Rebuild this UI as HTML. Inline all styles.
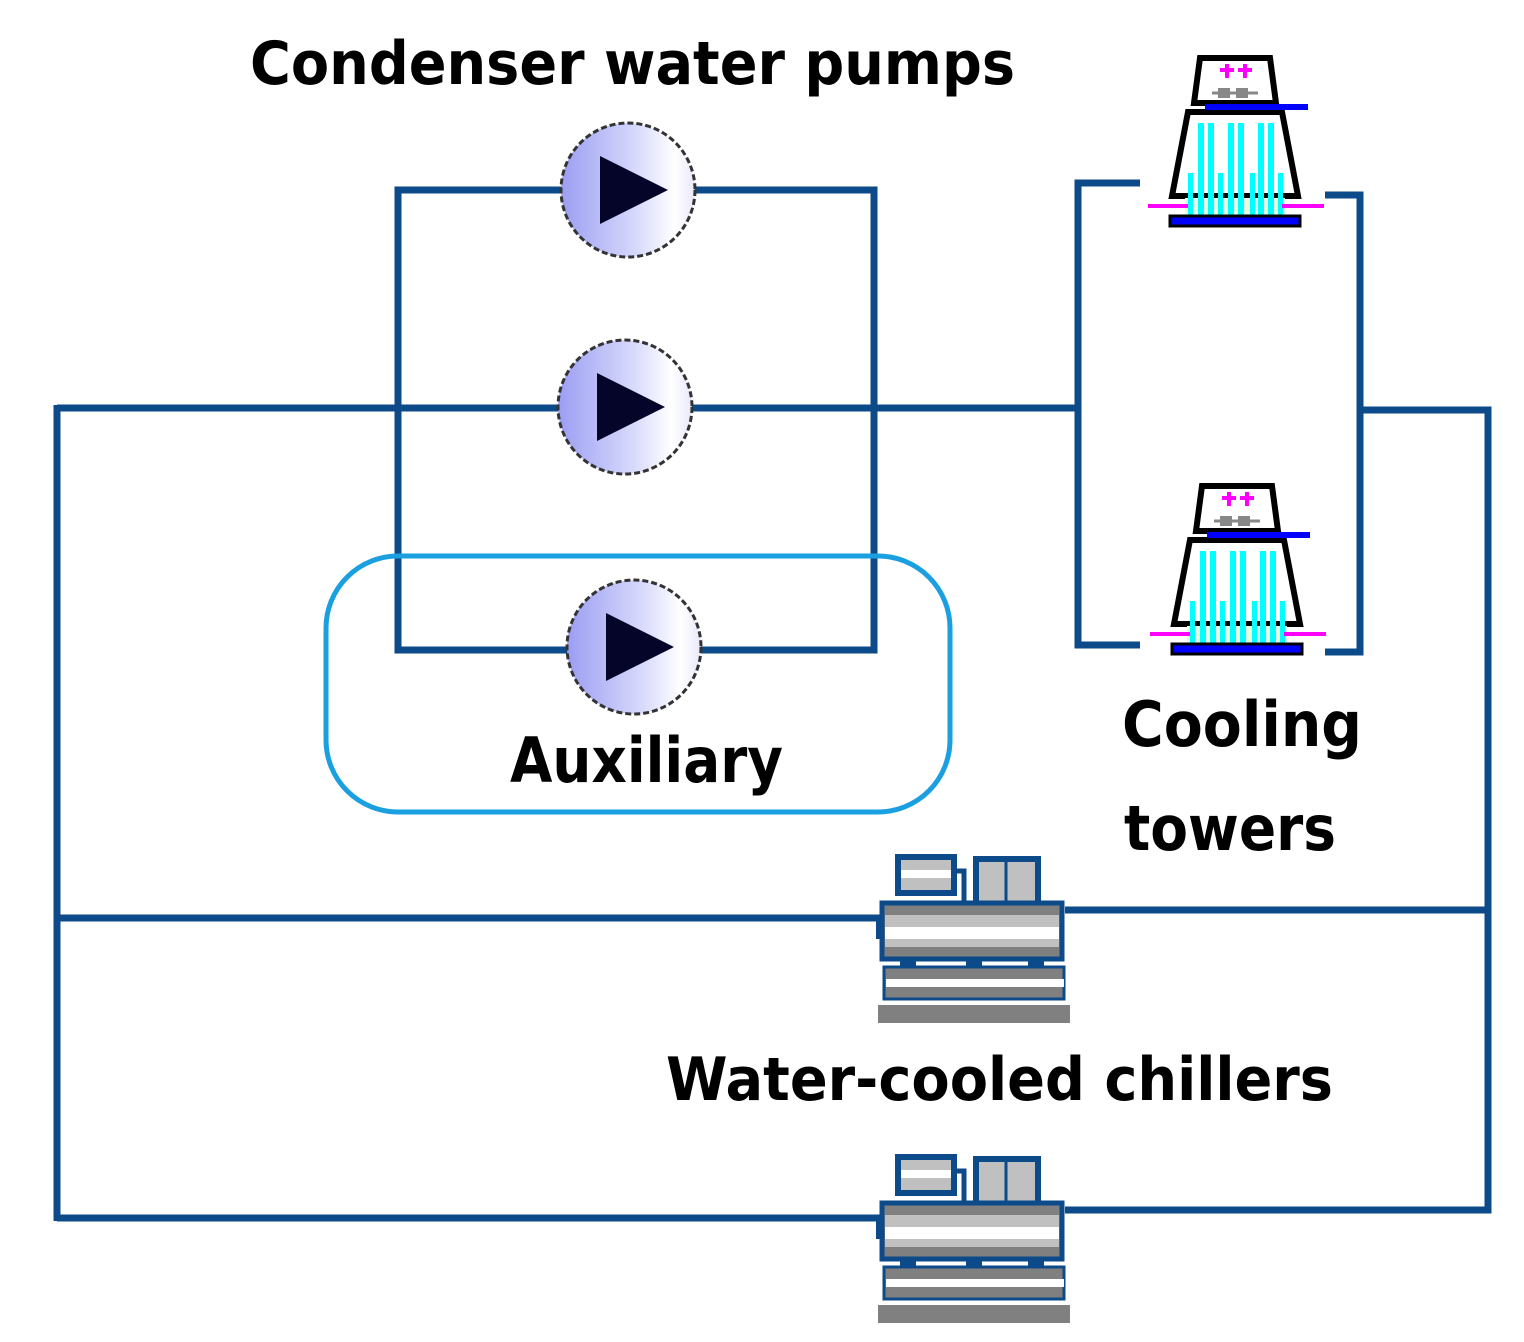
<!DOCTYPE html>
<html><head><style>html,body{margin:0;padding:0;background:#fff}svg{display:block}</style></head>
<body>
<svg width="1524" height="1342" viewBox="0 0 1524 1342" xmlns="http://www.w3.org/2000/svg">
<defs>
<linearGradient id="pg" x1="0" y1="0" x2="1" y2="0">
<stop offset="0" stop-color="#9b9ef2"/><stop offset="0.55" stop-color="#d6d8fb"/><stop offset="0.85" stop-color="#ffffff"/><stop offset="1" stop-color="#e8e8fb"/>
</linearGradient>
<g id="pump">
<circle cx="0" cy="0" r="67" fill="url(#pg)" stroke="#333" stroke-width="3" stroke-dasharray="6 3"/>
<polygon points="-28,-34 -28,34 40,0" fill="#05052a"/>
</g>
<g id="tower">
<polygon points="30,0 100,0 106,45 24,45" fill="#fff" stroke="#000" stroke-width="6"/>
<path d="M50,12 h14 M57,6 v14 M68,12 h14 M75,6 v14" stroke="#f0f" stroke-width="4"/>
<rect x="48" y="30" width="12" height="10" fill="#888"/><rect x="66" y="30" width="12" height="10" fill="#888"/>
<path d="M42,35 h46" stroke="#888" stroke-width="3"/>
<polygon points="18,54 112,54 128,138 2,138" fill="#fff" stroke="#000" stroke-width="6"/>
<rect x="35" y="46" width="103" height="6" fill="#00f"/>
<rect x="15" y="140" width="100" height="18" fill="#e6fbe0"/>
<g fill="#0ff">
<rect x="28" y="65" width="6" height="92"/><rect x="38" y="65" width="6" height="92"/>
<rect x="58" y="65" width="6" height="92"/><rect x="68" y="65" width="6" height="92"/>
<rect x="88" y="65" width="6" height="92"/><rect x="98" y="65" width="6" height="92"/>
<rect x="18" y="115" width="5" height="42"/><rect x="48" y="115" width="5" height="42"/><rect x="80" y="115" width="5" height="42"/><rect x="108" y="115" width="5" height="42"/>
</g>
<path d="M-22,148 h40 M112,148 h42" stroke="#f0f" stroke-width="4"/>
<rect x="0" y="158" width="130" height="10" fill="#00f" stroke="#000" stroke-width="3"/>
</g>
<g id="chiller">
<rect x="20" y="2" width="56" height="36" fill="#c0c0c0" stroke="#0d4a8a" stroke-width="6"/>
<rect x="23" y="15" width="50" height="8" fill="#fff"/>
<rect x="98" y="4" width="62" height="48" fill="#c0c0c0" stroke="#0d4a8a" stroke-width="6"/>
<path d="M128,4 v48" stroke="#0d4a8a" stroke-width="3"/>
<path d="M76,16 h10 v36" stroke="#0d4a8a" stroke-width="5" fill="none"/>
<rect x="4" y="48" width="180" height="56" fill="#808080" stroke="#0d4a8a" stroke-width="5"/>
<rect x="7" y="60" width="174" height="12" fill="#c0c0c0"/>
<rect x="7" y="72" width="174" height="12" fill="#fff"/>
<rect x="7" y="84" width="174" height="8" fill="#c0c0c0"/>
<rect x="-2" y="62" width="8" height="22" fill="#0d4a8a"/>
<rect x="22" y="104" width="16" height="8" fill="#0d4a8a"/><rect x="88" y="104" width="16" height="8" fill="#0d4a8a"/><rect x="150" y="104" width="16" height="8" fill="#0d4a8a"/>
<rect x="6" y="112" width="180" height="32" fill="#808080" stroke="#0d4a8a" stroke-width="3"/>
<rect x="8" y="124" width="178" height="8" fill="#fff"/>
<rect x="0" y="150" width="192" height="18" fill="#808080"/>
</g>
</defs>
<g fill="none" stroke="#0d4a8a" stroke-width="7">
<rect x="398" y="190" width="476" height="460"/>
<path d="M57,408 H1078 M57,405 V1221 M57,918 H880 M57,1218 H882"/>
<path d="M1140,183 H1078 V645 H1140"/>
<path d="M1325,195 H1360 V652 H1325"/>
<path d="M1360,410 H1488 V1210 H1065 M1065,910 H1488"/>
</g>
<rect x="326" y="556" width="624" height="256" rx="72" fill="none" stroke="#1aa0e0" stroke-width="5"/>
<use href="#pump" x="628" y="190"/>
<use href="#pump" x="625" y="407"/>
<use href="#pump" x="634" y="647"/>
<use href="#tower" x="1170" y="58"/>
<use href="#tower" x="1172" y="486"/>
<use href="#chiller" x="878" y="855"/>
<use href="#chiller" x="878" y="1155"/>
<g font-family="'DejaVu Sans','Liberation Sans',sans-serif" font-weight="bold" fill="#000">
<text x="250" y="84" font-size="60" textLength="765" lengthAdjust="spacingAndGlyphs">Condenser water pumps</text>
<text x="510" y="782" font-size="62" textLength="273" lengthAdjust="spacingAndGlyphs">Auxiliary</text>
<text x="1122" y="746" font-size="62" textLength="240" lengthAdjust="spacingAndGlyphs">Cooling</text>
<text x="1124" y="850" font-size="62" textLength="212" lengthAdjust="spacingAndGlyphs">towers</text>
<text x="666" y="1100" font-size="60" textLength="667" lengthAdjust="spacingAndGlyphs">Water-cooled chillers</text>
</g>
</svg>
</body></html>
